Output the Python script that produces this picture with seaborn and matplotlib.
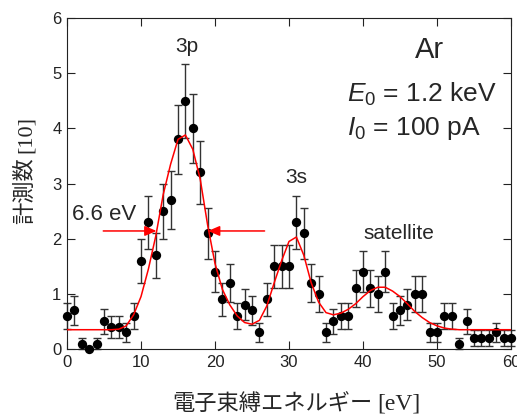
import numpy as np
import pandas as pd
import seaborn as sns
import matplotlib
matplotlib.use('Agg')
import matplotlib.pyplot as plt

# measured spectrum (counts in units of 10), one point per eV
energy = list(range(0, 61))
counts = [0.6, 0.7, 0.1, 0.0, 0.1, 0.5, 0.4, 0.4, 0.3, 0.6,
          1.6, 2.3, 1.7, 2.5, 2.7, 3.8, 4.5, 4.0, 3.2, 2.1,
          1.4, 0.9, 1.2, 0.6, 0.8, 0.7, 0.3, 0.9, 1.5, 1.5,
          1.5, 2.3, 2.1, 1.2, 1.0, 0.3, 0.5, 0.6, 0.6, 1.1,
          1.4, 1.1, 1.0, 1.4, 0.6, 0.7, 0.8, 1.0, 1.0, 0.3,
          0.3, 0.6, 0.6, 0.1, 0.5, 0.2, 0.2, 0.2, 0.3, 0.2, 0.2]
errors = [0.24, 0.26, 0.10, 0.00, 0.10, 0.22, 0.20, 0.20, 0.17, 0.24,
          0.40, 0.48, 0.41, 0.50, 0.52, 0.62, 0.67, 0.63, 0.57, 0.46,
          0.37, 0.30, 0.35, 0.24, 0.28, 0.26, 0.17, 0.30, 0.39, 0.39,
          0.39, 0.48, 0.46, 0.35, 0.32, 0.17, 0.22, 0.24, 0.24, 0.33,
          0.37, 0.33, 0.32, 0.37, 0.24, 0.26, 0.28, 0.32, 0.32, 0.17,
          0.17, 0.24, 0.24, 0.10, 0.22, 0.14, 0.14, 0.14, 0.17, 0.14, 0.14]
# fitted curve
fit = [0.35, 0.35, 0.35, 0.35, 0.35, 0.35, 0.35, 0.36, 0.42, 0.62,
       0.95, 1.45, 2.05, 2.80, 3.35, 3.80, 3.88, 3.62, 3.08, 2.25,
       1.55, 1.08, 0.80, 0.60, 0.48, 0.45, 0.52, 0.78, 1.20, 1.60,
       1.95, 2.03, 1.70, 1.20, 0.85, 0.66, 0.62, 0.65, 0.72, 0.82,
       0.95, 1.06, 1.12, 1.12, 1.05, 0.95, 0.82, 0.68, 0.57, 0.48,
       0.42, 0.38, 0.36, 0.35, 0.35, 0.35, 0.35, 0.35, 0.35, 0.35, 0.35]

df = pd.DataFrame({'E': energy, 'N': counts, 'err': errors, 'fit': fit})

sns.set_style('ticks')
plt.rcParams['font.family'] = ['Liberation Sans', 'Noto Sans CJK JP']
plt.rcParams['mathtext.fontset'] = 'custom'
plt.rcParams['mathtext.rm'] = 'Liberation Sans'
plt.rcParams['mathtext.it'] = 'Liberation Sans:italic'

fig = plt.figure(figsize=(5.17, 4.16), dpi=100)
ax = fig.add_axes([0.1296, 0.161, 0.8588, 0.7957])

ax.errorbar(df.E, df.N, yerr=df.err, fmt='none', ecolor='#333333',
            elinewidth=1.0, capsize=3.2, capthick=1.0, zorder=2, clip_on=False)
sns.scatterplot(data=df, x='E', y='N', ax=ax, color='black', s=45,
                edgecolor='black', linewidth=0, zorder=3, clip_on=False)
sns.lineplot(data=df, x='E', y='fit', ax=ax, color='red', lw=1.1, zorder=4)

ax.set_xlim(0, 60)
ax.set_ylim(0, 6)
ax.set_xticks(range(0, 61, 10))
ax.set_yticks(range(0, 7))
ax.tick_params(direction='in', length=6, width=0.8, labelsize=12,
               top=True, right=True, pad=4, colors='#222222', labelcolor='#222222')
for s in ax.spines.values():
    s.set_linewidth(0.8)
    s.set_color('#222222')
ax.set_xlabel('')
ax.set_ylabel('')

# annotations
ax.text(16.25, 5.39, '3p', ha='center', va='baseline', fontsize=15)
ax.text(31.0, 3.01, '3s', ha='center', va='baseline', fontsize=15)
ax.text(44.8, 2.0, 'satellite', ha='center', va='baseline', fontsize=15)
ax.text(49.0, 5.27, 'Ar', ha='center', va='baseline', fontsize=21)
ax.text(37.9, 4.48, r'$E_0$ = 1.2 keV', ha='left', va='baseline', fontsize=19)
ax.text(37.9, 3.88, r'$I_0$ = 100 pA', ha='left', va='baseline', fontsize=19)
ax.text(0.73, 2.34, '6.6 eV', ha='left', va='baseline', fontsize=16)

arrow = dict(arrowstyle='-|>,head_length=0.7,head_width=0.3', color='red',
             lw=1.1, shrinkA=0, shrinkB=0)
ax.annotate('', xy=(12.1, 2.14), xytext=(4.9, 2.14), arrowprops=arrow)
ax.annotate('', xy=(19.05, 2.14), xytext=(26.7, 2.14), arrowprops=arrow)

# axis labels: gothic Japanese + serif units
fig.text(0.7215, 0.015, '電子束縛エネルギー', ha='right', va='baseline',
         fontsize=16, family=['Noto Sans CJK JP'])
fig.text(0.729, 0.015, '[eV]', ha='left', va='baseline',
         fontsize=17, family=['Liberation Serif'])
fig.text(0.06, 0.6226, '計測数', ha='right', va='baseline', rotation=90,
         rotation_mode='anchor', fontsize=16, family=['Noto Sans CJK JP'])
fig.text(0.06, 0.632, '[10]', ha='left', va='baseline', rotation=90,
         rotation_mode='anchor', fontsize=16, family=['Liberation Serif'])

fig.savefig('out.png', dpi=100)
